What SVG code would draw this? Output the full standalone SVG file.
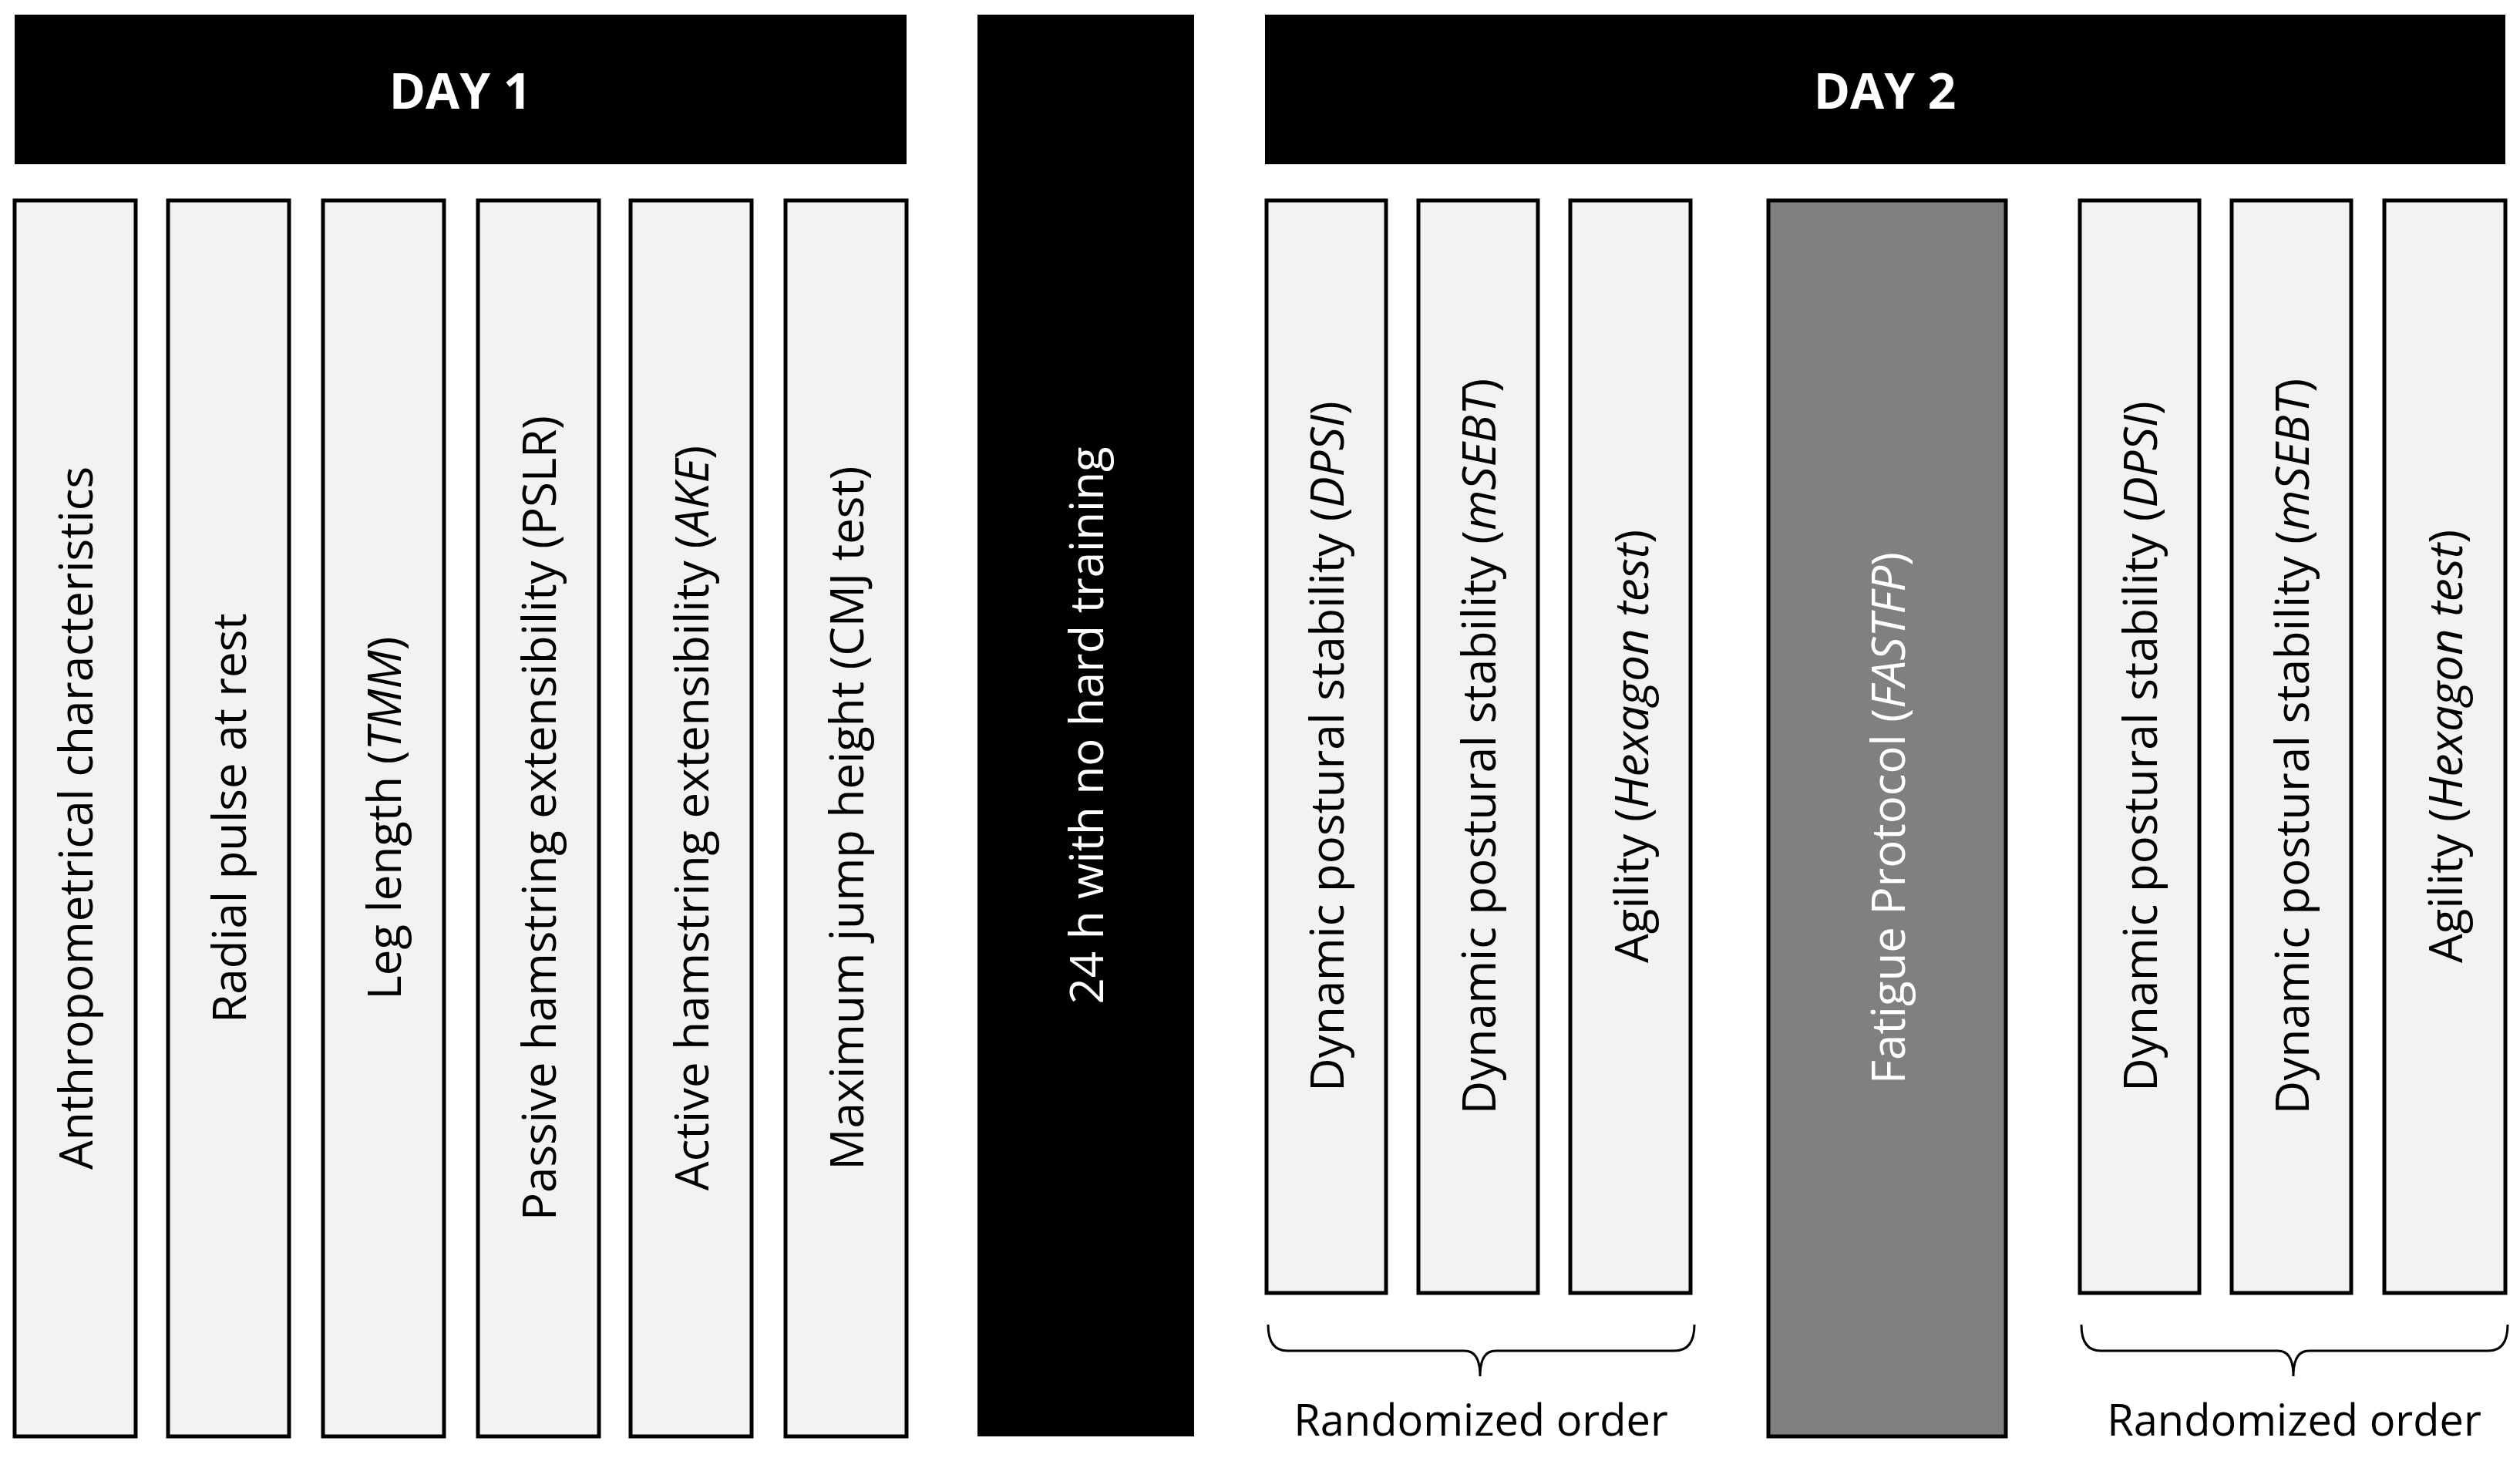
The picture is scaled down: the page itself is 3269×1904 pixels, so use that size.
<svg xmlns="http://www.w3.org/2000/svg" width="3269" height="1904" viewBox="0 0 3269 1904">
<style>
.col{fill:#f2f2f2;stroke:#000;stroke-width:5}
.blk{fill:#000}
.t{font-family:"Open Sans","Liberation Sans",sans-serif;font-size:60px;fill:#000;text-anchor:middle;dominant-baseline:central}
.w{fill:#fff}
.h{font-family:"Open Sans","Liberation Sans",sans-serif;font-size:64px;font-weight:bold;fill:#fff;text-anchor:middle;dominant-baseline:central}
.br{fill:none;stroke:#000;stroke-width:3}
.lab{font-family:"Open Sans","Liberation Sans",sans-serif;font-size:56px;fill:#000;text-anchor:middle}
</style>
<rect width="3269" height="1904" fill="#fff"/>
<g id="day1"><rect class="blk" x="19" y="19" width="1157" height="194"/><text class="h" x="597" y="116">DAY 1</text></g>
<g id="day2"><rect class="blk" x="1641" y="19" width="1609" height="194"/><text class="h" x="2445" y="116">DAY 2</text></g>
<g id="rest"><rect class="blk" x="1268" y="19" width="281" height="1844"/><text class="t w" transform="translate(1408,941) rotate(-90)">24 h with no hard training</text></g>
<g id="d1a"><rect class="col" x="19" y="260" width="157" height="1603"/><text class="t" transform="translate(97,1061) rotate(-90)">Anthropometrical characteristics</text></g>
<g id="d1b"><rect class="col" x="218" y="260" width="157" height="1603"/><text class="t" transform="translate(296,1061) rotate(-90)">Radial pulse at rest</text></g>
<g id="d1c"><rect class="col" x="419" y="260" width="157" height="1603"/><text class="t" transform="translate(497,1061) rotate(-90)">Leg length (<tspan font-style="italic">TMM</tspan>)</text></g>
<g id="d1d"><rect class="col" x="620" y="260" width="157" height="1603"/><text class="t" transform="translate(698,1061) rotate(-90)">Passive hamstring extensibility (PSLR)</text></g>
<g id="d1e"><rect class="col" x="818" y="260" width="157" height="1603"/><text class="t" transform="translate(896,1061) rotate(-90)">Active hamstring extensibility (<tspan font-style="italic">AKE</tspan>)</text></g>
<g id="d1f"><rect class="col" x="1019" y="260" width="157" height="1603"/><text class="t" transform="translate(1097,1061) rotate(-90)">Maximum jump height (CMJ test)</text></g>
<g id="d2a"><rect class="col" x="1643" y="260" width="155" height="1417"/><text class="t" transform="translate(1720,968) rotate(-90)">Dynamic postural stability (<tspan font-style="italic">DPSI</tspan>)</text></g>
<g id="d2b"><rect class="col" x="1840" y="260" width="155" height="1417"/><text class="t" transform="translate(1917,968) rotate(-90)">Dynamic postural stability (<tspan font-style="italic">mSEBT</tspan>)</text></g>
<g id="d2c"><rect class="col" x="2037" y="260" width="156" height="1417"/><text class="t" transform="translate(2115,968) rotate(-90)">Agility (<tspan font-style="italic">Hexagon test</tspan>)</text></g>
<g id="fatigue"><rect x="2294" y="260" width="308" height="1603" fill="#808080" stroke="#000" stroke-width="5"/><text class="t w" transform="translate(2448,1061) rotate(-90)">Fatigue Protocol (<tspan font-style="italic">FASTFP</tspan>)</text></g>
<g id="d2d"><rect class="col" x="2698" y="260" width="155" height="1417"/><text class="t" transform="translate(2775,968) rotate(-90)">Dynamic postural stability (<tspan font-style="italic">DPSI</tspan>)</text></g>
<g id="d2e"><rect class="col" x="2895" y="260" width="155" height="1417"/><text class="t" transform="translate(2972,968) rotate(-90)">Dynamic postural stability (<tspan font-style="italic">mSEBT</tspan>)</text></g>
<g id="d2f"><rect class="col" x="3093" y="260" width="157" height="1417"/><text class="t" transform="translate(3171,968) rotate(-90)">Agility (<tspan font-style="italic">Hexagon test</tspan>)</text></g>
<g id="connectors">
<path class="br" d="M1645,1718 Q1645,1752 1670,1752 L1900,1752 Q1920,1752 1920,1785 Q1920,1752 1940,1752 L2172,1752 Q2198,1752 2198,1718"/>
<path class="br" d="M2700,1718 Q2700,1752 2725,1752 L2955,1752 Q2975,1752 2975,1785 Q2975,1752 2995,1752 L3228,1752 Q3253,1752 3253,1718"/>
</g>
<g id="rand1"><text class="lab" x="1921" y="1862">Randomized order</text></g>
<g id="rand2"><text class="lab" x="2976" y="1862">Randomized order</text></g>
</svg>
